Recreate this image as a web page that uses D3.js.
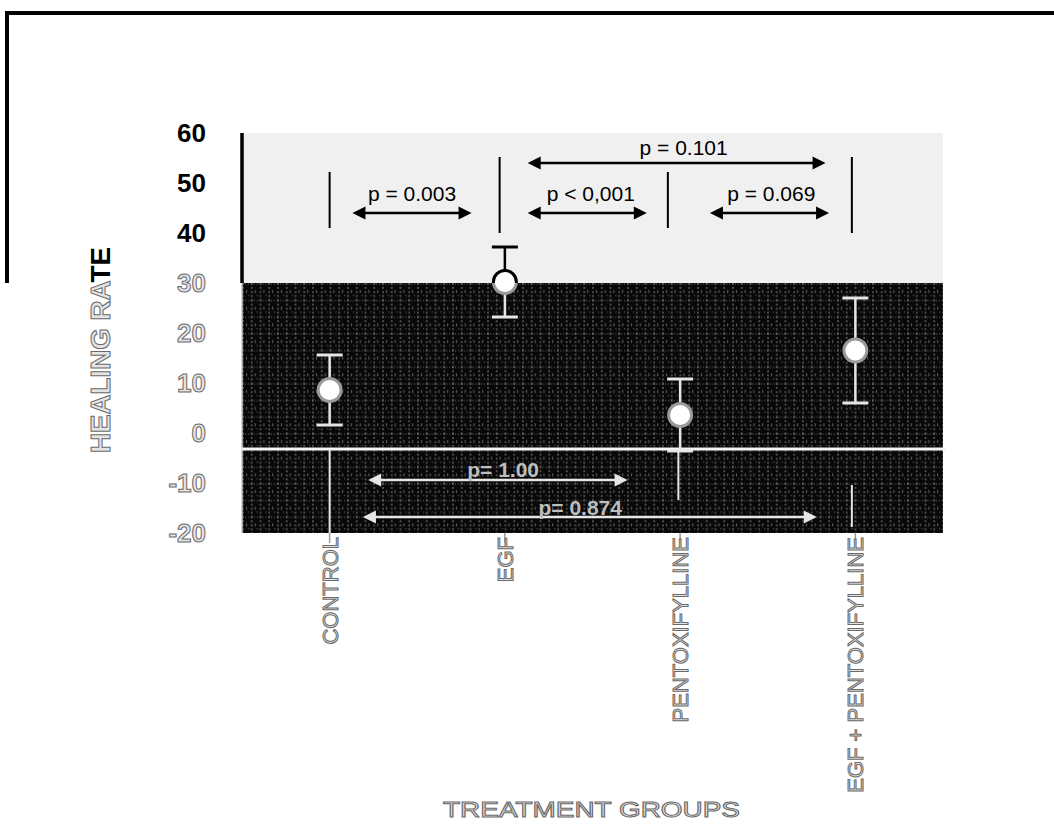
<!DOCTYPE html>
<html lang="en">
<head>
<meta charset="utf-8">
<title>Healing rate</title>
<style>
body{
  margin: 0;
  background: #fff;
}
svg text{
  font-family: "Liberation Sans", Arial, sans-serif;
}
</style>
</head>
<body>
<div id="chart"></div>
<script src="https://cdnjs.cloudflare.com/ajax/libs/d3/7.8.5/d3.min.js"></script>
<script>
// data
var groups = ["CONTROL", "EGF", "PENTOXIFYLLINE", "EGF + PENTOXIFYLLINE"];
var means = [8.6, 30.2, 3.6, 16.5];
var errors = [7.0, 7.0, 7.2, 10.5];
var yTicks = [60, 50, 40, 30, 20, 10, 0, -10, -20];
var refLevel = -3.2;

// comparison arrows, positions in group-index units
var cmpText = ["p = 0.003", "p < 0,001", "p = 0.069", "p = 0.101", "p= 1.00", "p= 0.874"];
var cmpFrom = [0.13, 1.13, 2.17, 1.13, 0.22, 0.19];
var cmpTo = [0.81, 1.81, 2.85, 2.83, 1.70, 2.78];
var cmpLevel = [44, 44, 44, 54, -9.4, -16.8];
var cmpTextPos = [0.47, 1.49, 2.52, 2.02, 0.99, 1.43];
var cmpTextLevel = [46.4, 46.4, 46.4, 55.6, -8.8, -16.4];

// separator bars
var sepPos = [0, 0.97, 1.93, 2.98, 0, 1.99, 2.98];
var sepLow = [41, 40, 41, 40, -20, -13.4, -18.8];
var sepHigh = [52.2, 55.2, 52.2, 55.2, refLevel, refLevel, -10.4];

var W = 1054, H = 833;
var svg = d3.select("#chart").append("svg")
  .attr("width", W)
  .attr("height", H);

var x = d3.scaleBand().domain(groups).range([242, 943]);
var bw = x.bandwidth();
var xi = d3.scaleLinear().domain([0, 3])
  .range([x(groups[0]) + bw / 2, x(groups[3]) + bw / 2]);
var y = d3.scaleLinear().domain([-20, 60]).range([533, 133]);
var splitY = y(30);

var defs = svg.append("defs");

// dark textured area
var pat = defs.append("pattern")
  .attr("id", "tex")
  .attr("patternUnits", "userSpaceOnUse")
  .attr("x", 242).attr("y", splitY)
  .attr("width", 8.75).attr("height", 16.67);
pat.append("rect").attr("width", 8.75).attr("height", 16.67).attr("fill", "#080808");
pat.append("line").attr("x1", 1).attr("x2", 1).attr("y1", 0).attr("y2", 16.67)
  .attr("stroke", "#8c8c8c").attr("stroke-width", 1).attr("stroke-dasharray", "2 2");
pat.append("line").attr("x1", 0).attr("x2", 8.75).attr("y1", 1).attr("y2", 1)
  .attr("stroke", "#777").attr("stroke-width", 1).attr("stroke-dasharray", "1 2");
pat.append("rect").attr("x", 4).attr("y", 7).attr("width", 1).attr("height", 3).attr("fill", "#666");
pat.append("rect").attr("x", 6).attr("y", 12).attr("width", 1).attr("height", 1).attr("fill", "#777");

defs.append("clipPath").attr("id", "clipTop")
  .append("rect").attr("x", 0).attr("y", 0).attr("width", W).attr("height", splitY);
defs.append("clipPath").attr("id", "clipBot")
  .append("rect").attr("x", 0).attr("y", splitY).attr("width", W).attr("height", H - splitY);

// frame
svg.append("path")
  .attr("d", "M7," + splitY + "V13H" + W)
  .attr("fill", "none").attr("stroke", "#000").attr("stroke-width", 4);

// backgrounds
svg.append("rect")
  .attr("x", 242).attr("y", y(60))
  .attr("width", 943 - 242).attr("height", y(30) - y(60))
  .attr("fill", "#f0f0f0");
svg.append("rect")
  .attr("x", 242).attr("y", y(30))
  .attr("width", 943 - 242).attr("height", y(-20) - y(30))
  .attr("fill", "url(#tex)");

// left axis line
svg.append("line").attr("x1", 242).attr("x2", 242).attr("y1", y(60)).attr("y2", y(30))
  .attr("stroke", "#000").attr("stroke-width", 3.5);
svg.append("line").attr("x1", 242).attr("x2", 242).attr("y1", y(30)).attr("y2", y(-20))
  .attr("stroke", "#c8c8c8").attr("stroke-width", 1.5);

// horizontal reference line
svg.append("line").attr("x1", 242).attr("x2", 946)
  .attr("y1", y(refLevel)).attr("y2", y(refLevel))
  .attr("stroke", "#f4f4f4").attr("stroke-width", 3);

// marks, drawn twice: normal above the split, inverted below it
function drawMarks(clip, ink, fillCircle, haloStroke) {
  var g = svg.append("g").attr("clip-path", "url(#" + clip + ")");

  // separators
  g.selectAll(".sep").data(sepPos).enter().append("line")
    .attr("x1", function (d) { return xi(d); })
    .attr("x2", function (d) { return xi(d); })
    .attr("y1", function (d, i) { return y(sepLow[i]); })
    .attr("y2", function (d, i) { return y(sepHigh[i]); })
    .attr("stroke", ink).attr("stroke-width", 2);

  // arrows
  g.selectAll(".arr").data(cmpFrom).enter().append("line")
    .attr("x1", function (d) { return xi(d) + 11; })
    .attr("x2", function (d, i) { return xi(cmpTo[i]) - 11; })
    .attr("y1", function (d, i) { return y(cmpLevel[i]); })
    .attr("y2", function (d, i) { return y(cmpLevel[i]); })
    .attr("stroke", ink).attr("stroke-width", 2.5);
  g.selectAll(".hs").data(cmpFrom).enter().append("path")
    .attr("d", function (d, i) {
      var px = xi(d), py = y(cmpLevel[i]);
      return "M" + px + "," + py + "l13,-6.5v13Z";
    })
    .attr("fill", ink);
  g.selectAll(".he").data(cmpTo).enter().append("path")
    .attr("d", function (d, i) {
      var px = xi(d), py = y(cmpLevel[i]);
      return "M" + px + "," + py + "l-13,-6.5v13Z";
    })
    .attr("fill", ink);

  g.selectAll(".ptxt").data(cmpText).enter().append("text")
    .attr("x", function (d, i) { return xi(cmpTextPos[i]); })
    .attr("y", function (d, i) { return y(cmpTextLevel[i]); })
    .attr("text-anchor", "middle")
    .attr("font-size", function (d, i) { return i < 4 ? 21 : 21; })
    .attr("font-weight", function (d, i) { return i < 4 ? "normal" : "bold"; })
    .attr("fill", clip == "clipTop" ? "#000" : "#bdbdbd")
    .text(function (d) { return d; });

  // error bars
  var eb = g.selectAll(".eb").data(groups).enter().append("g")
    .attr("transform", function (d) { return "translate(" + (x(d) + bw / 2) + ",0)"; });
  eb.append("line")
    .attr("y1", function (d, i) { return y(means[i] + errors[i]); })
    .attr("y2", function (d, i) { return y(means[i] - errors[i]); })
    .attr("stroke", ink).attr("stroke-width", 2.5);
  eb.append("line").attr("x1", -13).attr("x2", 13)
    .attr("y1", function (d, i) { return y(means[i] + errors[i]); })
    .attr("y2", function (d, i) { return y(means[i] + errors[i]); })
    .attr("stroke", ink).attr("stroke-width", 3);
  eb.append("line").attr("x1", -13).attr("x2", 13)
    .attr("y1", function (d, i) { return y(means[i] - errors[i]); })
    .attr("y2", function (d, i) { return y(means[i] - errors[i]); })
    .attr("stroke", ink).attr("stroke-width", 3);
  eb.append("circle")
    .attr("cy", function (d, i) { return y(means[i]); })
    .attr("r", 11.5)
    .attr("fill", fillCircle)
    .attr("stroke", haloStroke).attr("stroke-width", 3);
}
drawMarks("clipTop", "#000", "#fff", "#000");
drawMarks("clipBot", "#e6e6e6", "#fff", "#9a9a9a");

// y axis labels
var yAxis = d3.axisLeft(y).tickValues(yTicks).tickSize(0).tickPadding(36)
  .tickFormat(function (d) { return String(d); });
var yg = svg.append("g").attr("transform", "translate(242,0)").call(yAxis);
yg.select(".domain").remove();
yg.selectAll("text")
  .attr("font-size", 26)
  .attr("font-weight", "bold")
  .attr("font-family", "'Liberation Sans', Arial, sans-serif")
  .attr("fill", function (d) { return d > 30 ? "#000" : "#e4e4e4"; })
  .attr("stroke", function (d) { return d > 30 ? "none" : "#6a6a6a"; })
  .attr("stroke-width", 1);

// x axis
var xAxis = d3.axisBottom(x).tickSize(10).tickPadding(0);
var xg = svg.append("g").attr("transform", "translate(0," + y(-20) + ")").call(xAxis);
xg.select(".domain").remove();
xg.selectAll(".tick line").attr("stroke", "#999").attr("stroke-width", 1.5);
xg.selectAll("text")
  .attr("transform", "translate(8,4) rotate(-90)")
  .attr("x", 0).attr("y", 0).attr("dy", 0)
  .attr("text-anchor", "end")
  .attr("font-size", 22)
  .attr("font-family", "'Liberation Sans', Arial, sans-serif")
  .attr("fill", "#e4e4e4")
  .attr("stroke", "#6a6a6a")
  .attr("stroke-width", 1);

// axis titles
var yt = svg.append("text")
  .attr("transform", "translate(110,350) rotate(-90)")
  .attr("text-anchor", "middle")
  .attr("font-size", 28)
  .attr("font-weight", "bold")
  .attr("textLength", 206)
  .attr("lengthAdjust", "spacingAndGlyphs");
yt.append("tspan").text("HEALING RA")
  .attr("fill", "#e4e4e4").attr("stroke", "#6a6a6a").attr("stroke-width", 1);
yt.append("tspan").text("TE").attr("fill", "#000");

svg.append("text")
  .attr("x", 443).attr("y", 817)
  .attr("font-size", 22)
  .attr("textLength", 297)
  .attr("lengthAdjust", "spacingAndGlyphs")
  .attr("fill", "#e4e4e4")
  .attr("stroke", "#6a6a6a")
  .attr("stroke-width", 1)
  .text("TREATMENT GROUPS");
</script>
</body>
</html>
